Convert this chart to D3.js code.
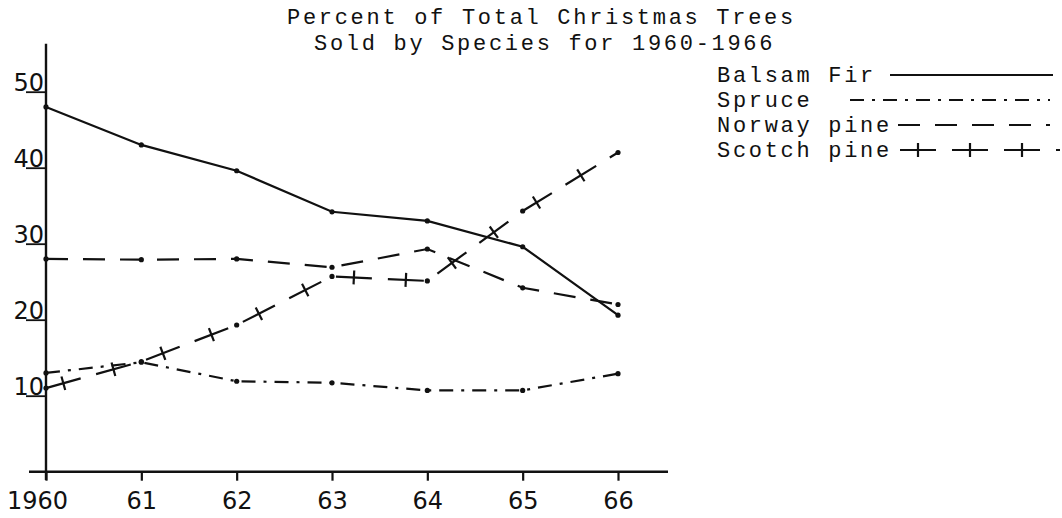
<!DOCTYPE html>
<html>
<head>
<meta charset="utf-8">
<script src="https://cdnjs.cloudflare.com/ajax/libs/d3/7.8.5/d3.min.js"></script>
<style>
  body { margin: 0; background: #fff; }
  svg { display: block; }
  .typed { font-family: "Liberation Mono", "Courier New", monospace; font-size: 22px; letter-spacing: 2.7px; fill: #111; }
  .lettered { font-family: "DejaVu Sans", sans-serif; font-size: 24px; fill: #111; }
</style>
</head>
<body>
<svg id="chart"></svg>
<script>
var years = [1960, 1961, 1962, 1963, 1964, 1965, 1966];
var xTickLabels = ["1960", "61", "62", "63", "64", "65", "66"];
var yTicks = [10, 20, 30, 40, 50];

var balsamFir  = [48.0, 43.0, 39.6, 34.2, 33.0, 29.6, 20.6];
var spruce     = [13.0, 14.4, 11.9, 11.7, 10.7, 10.7, 12.9];
var norwayPine = [28.0, 27.9, 28.0, 26.9, 29.3, 24.2, 22.0];
var scotchPine = [11.0, 14.5, 19.3, 25.7, 25.1, 34.3, 42.0];

var titleLines = ["Percent of Total Christmas Trees", "Sold by Species for 1960-1966"];
var seriesNames = ["Balsam Fir", "Spruce", "Norway pine", "Scotch pine"];

var width = 1062, height = 518;

var svg = d3.select("#chart")
  .attr("width", width)
  .attr("height", height);

var x = d3.scaleLinear().domain([1960, 1966]).range([46, 618]);
var y = d3.scaleLinear().domain([0, 50]).range([471.7, 91.7]);

// line styles, shared by plot and legend
var styles = [
  { data: balsamFir,  dash: null,          crosses: false },
  { data: spruce,     dash: "14,8,3,8",    crosses: false },
  { data: norwayPine, dash: "22,15",       crosses: false },
  { data: scotchPine, dash: "36,16",       crosses: true }
];

// title
svg.append("text").attr("class", "typed").attr("x", 287).attr("y", 24).text(titleLines[0]);
svg.append("text").attr("class", "typed").attr("x", 314).attr("y", 50).text(titleLines[1]);

// axes
var xAxis = d3.axisBottom(x)
  .tickValues(years)
  .tickSize(9)
  .tickFormat(function(d, i) { return xTickLabels[i]; });

var gx = svg.append("g")
  .attr("transform", "translate(0," + y(0) + ")")
  .call(xAxis);
gx.select(".domain").remove();
gx.selectAll(".tick line").attr("stroke", "#111").attr("stroke-width", 2.2);
gx.selectAll(".tick text")
  .attr("class", "lettered")
  .attr("font-family", null).attr("font-size", null)
  .attr("y", 37)
  .attr("dy", 0)
  .attr("dx", function(d, i) { return i === 0 ? -9 : 0; });

var yAxis = d3.axisLeft(y)
  .tickValues(yTicks)
  .tickSize(20)
  .tickFormat(d3.format("d"));

var gy = svg.append("g")
  .attr("transform", "translate(" + x(1960) + ",0)")
  .call(yAxis);
gy.select(".domain").remove();
gy.selectAll(".tick line").attr("stroke", "#111").attr("stroke-width", 1.8);
gy.selectAll(".tick text")
  .attr("class", "lettered")
  .attr("font-family", null).attr("font-size", null)
  .attr("x", -2)
  .attr("dy", -1);

svg.append("line")
  .attr("x1", 29).attr("x2", 668)
  .attr("y1", y(0)).attr("y2", y(0))
  .attr("stroke", "#111").attr("stroke-width", 2.4);

svg.append("line")
  .attr("x1", x(1960)).attr("x2", x(1960))
  .attr("y1", y(56.3)).attr("y2", y(-1.1))
  .attr("stroke", "#111").attr("stroke-width", 2.4);

// series
var line = d3.line()
  .x(function(d, i) { return x(years[i]); })
  .y(function(d) { return y(d); });

function styled(sel, st) {
  sel.attr("fill", "none")
    .attr("stroke", "#111")
    .attr("stroke-width", 2.2)
    .attr("stroke-dasharray", st.dash);
  if (st.crosses) addCrosses(sel.node(), 36, 16, 7);
}

function addCrosses(pathNode, dash, gap, half) {
  var len = pathNode.getTotalLength();
  var parent = d3.select(pathNode.parentNode);
  for (var s = dash / 2; s < len; s += dash + gap) {
    var p = pathNode.getPointAtLength(s);
    var q = pathNode.getPointAtLength(Math.min(s + 1, len));
    var a = Math.atan2(q.y - p.y, q.x - p.x);
    var nx = -Math.sin(a), ny = Math.cos(a);
    parent.append("line")
      .attr("x1", p.x - nx * half).attr("y1", p.y - ny * half)
      .attr("x2", p.x + nx * half).attr("y2", p.y + ny * half)
      .attr("stroke", "#111").attr("stroke-width", 2.2);
  }
}

var plot = svg.append("g").attr("class", "series");

styles.forEach(function(st) {
  var g = plot.append("g");
  g.append("path").datum(st.data).attr("d", line).call(styled, st);
  g.selectAll("circle")
    .data(st.data)
    .enter().append("circle")
      .attr("cx", function(d, i) { return x(years[i]); })
      .attr("cy", function(d) { return y(d); })
      .attr("r", 2.6)
      .attr("fill", "#111");
});

// legend
var legendRows = [82, 107, 132, 157];
var legendStart = [890, 850, 898, 900];
var legendEnd = [1053, 1050, 1050, 1060];

var legend = svg.append("g").attr("class", "legend");
seriesNames.forEach(function(name, i) {
  var g = legend.append("g");
  g.append("text").attr("class", "typed")
    .attr("x", 717).attr("y", legendRows[i])
    .text(name);
  g.append("path")
    .attr("d", "M" + legendStart[i] + "," + (legendRows[i] - 7) + "H" + legendEnd[i])
    .call(styled, styles[i]);
});
</script>
</body>
</html>
